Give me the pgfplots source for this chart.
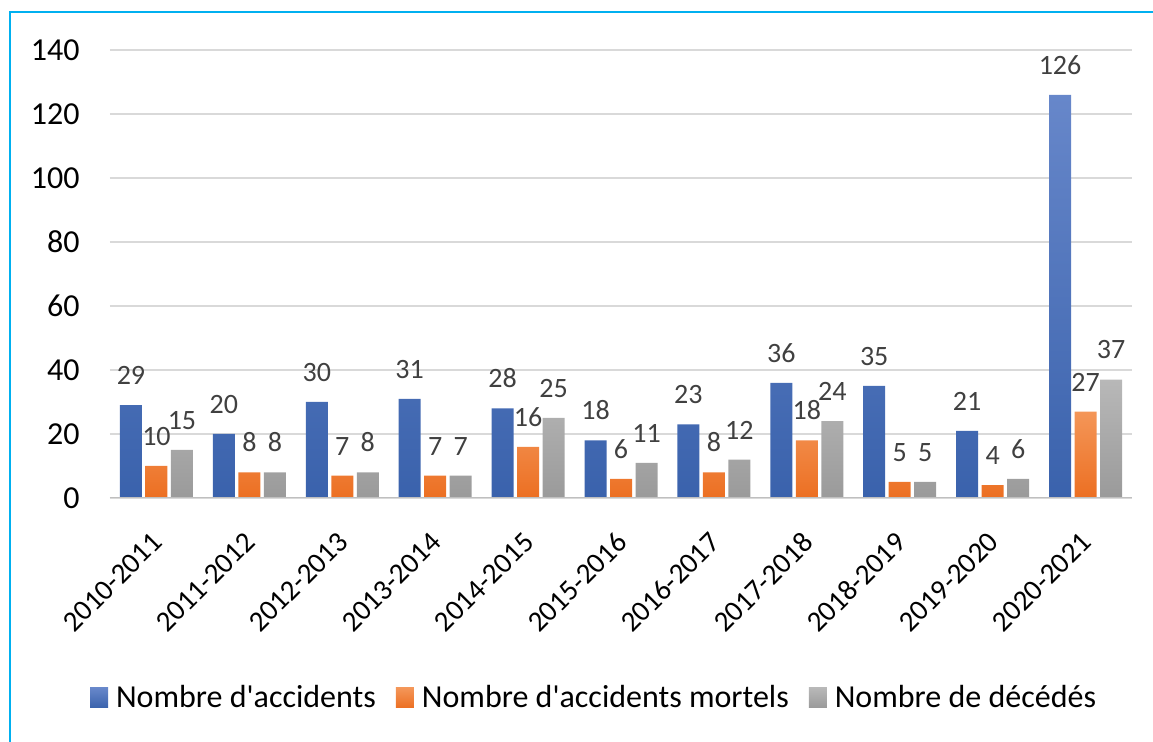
\documentclass[border=0pt]{standalone}
\usepackage{fontspec}
\setmainfont{Carlito}
\usepackage{pgfplots}
\pgfplotsset{compat=1.18}

\definecolor{cblueT}{HTML}{6787CA}
\definecolor{cblueB}{HTML}{3A62AC}
\definecolor{corgT}{HTML}{F49658}
\definecolor{corgB}{HTML}{EC6F22}
\definecolor{cgryT}{HTML}{B8B8B8}
\definecolor{cgryB}{HTML}{9A9A9A}
\definecolor{frame}{HTML}{00B0F0}
\definecolor{lbl}{HTML}{404040}

\begin{document}
\begin{tikzpicture}[x=0.5pt, y=0.5pt]
\path[use as bounding box] (0,0) rectangle (1153,742);
\draw[frame, line width=1.3pt] (10,0) -- (10,730) -- (1153,730);
\begin{axis}[
  at={(55pt,122pt)}, anchor=south west,
  scale only axis, width=511pt, height=224pt,
  ybar, bar width=11pt,
  xmin=-0.5, xmax=10.5, ymin=0, ymax=140,
  ytick={0,20,...,140},
  xtick={0,...,10},
  xticklabels={2010-2011,2011-2012,2012-2013,2013-2014,2014-2015,2015-2016,2016-2017,2017-2018,2018-2019,2019-2020,2020-2021},
  xticklabel style={xshift=-3pt, yshift=-16pt, rotate=45, anchor=north east, inner sep=0pt, font=\fontsize{14.5}{16}\selectfont},
  yticklabel style={anchor=east, inner sep=0pt, xshift=-15pt, font=\fontsize{16}{18}\selectfont},
  /pgf/number format/assume math mode=true,
  major tick length=0pt,
  axis line style={draw=none},
  ymajorgrids, grid style={color=black!15, line width=0.75pt},
  nodes near coords,
  every node near coord/.append style={font=\fontsize{14}{16}\selectfont, text=lbl, inner sep=0pt, yshift=10pt},
  legend columns=3,
  legend style={at={(0.4746,-0.4464)}, anchor=center, draw=none, fill=none,
    font=\fontsize{16}{18}\selectfont,
    /tikz/every odd column/.append style={column sep=2pt},
    /tikz/every even column/.append style={column sep=8pt}},
  legend image code/.code={\fill[#1] (0pt,-5pt) rectangle (9pt,5pt);},
  legend cell align=left,
]
\addplot[draw=none, top color=cblueT, bottom color=cblueB, bar shift=-12.75pt] coordinates {
 (0,29) (1,20) (2,30) (3,31) (4,28) (5,18) (6,23) (7,36) (8,35) (9,21) (10,126)};
\addplot[draw=none, top color=corgT, bottom color=corgB, bar shift=0pt] coordinates {
 (0,10) (1,8) (2,7) (3,7) (4,16) (5,6) (6,8) (7,18) (8,5) (9,4) (10,27)};
\addplot[draw=none, top color=cgryT, bottom color=cgryB, bar shift=12.75pt] coordinates {
 (0,15) (1,8) (2,8) (3,7) (4,25) (5,11) (6,12) (7,24) (8,5) (9,6) (10,37)};
\legend{Nombre d\textquotesingle accidents, Nombre d\textquotesingle accidents mortels, Nombre de décédés}
\draw[black!25, line width=1pt] (axis cs:-0.5,0) -- (axis cs:10.5,0);
\end{axis}
\end{tikzpicture}
\end{document}
